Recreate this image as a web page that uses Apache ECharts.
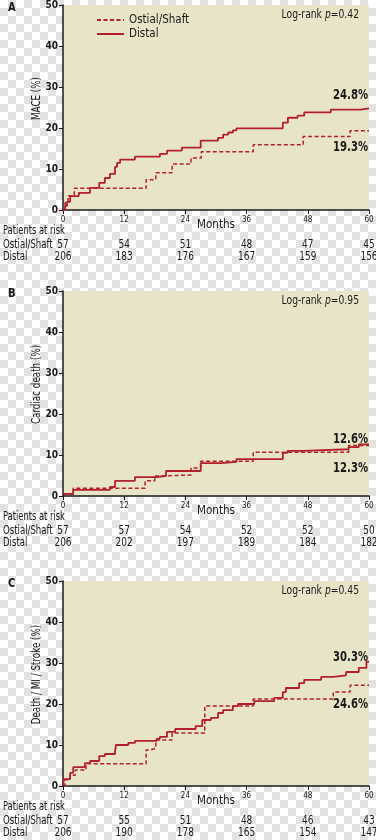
<!DOCTYPE html>
<html>
<head>
<meta charset="utf-8">
<script src="https://cdn.jsdelivr.net/npm/echarts@6/dist/echarts.min.js"></script>
<style>
html, body { margin: 0; padding: 0; }
body {
  width: 376px; height: 840px;
  background-color: #fff;
  background-image:
    linear-gradient(45deg, #e2e2e2 25%, transparent 25%, transparent 75%, #e2e2e2 75%),
    linear-gradient(45deg, #e2e2e2 25%, transparent 25%, transparent 75%, #e2e2e2 75%);
  background-size: 16px 16px;
  background-position: 0 0, 8px 8px;
}
#chart { width: 376px; height: 840px; }
</style>
</head>
<body>
<div id="chart"></div>
<script>
// months ticks
var months = [0, 12, 24, 36, 48, 60]

// panel A - MACE
var distalA = [[0,0],[0.4,1],[0.8,2],[1.4,3.4],[3.1,4.2],[5.3,5.4],[7.1,6.6],[8.2,7.8],[9.2,8.8],[10.2,10.5],[10.6,11.5],[11.2,12.3],[14.1,13],[19,13.7],[20.4,14.5],[23.3,15.2],[27,16.9],[30.4,17.6],[31.4,18.4],[32.4,18.9],[33.3,19.4],[34,19.9],[43.1,21.3],[44.1,22.5],[46,23],[47.3,23.8],[52.5,24.5],[58.4,24.8],[60,24.8]]
var ostialA = [[0,0],[0.4,1.8],[1,3.5],[2.2,5.3],[16.3,7.4],[18.2,9.1],[21.4,11.2],[25.1,12.7],[27.1,14.2],[37.3,15.9],[47.1,17.9],[56.3,19.3],[60,19.3]]
var riskOstialA = [57, 54, 51, 48, 47, 45]
var riskDistalA = [206, 183, 176, 167, 159, 156]

// panel B - cardiac death
var distalB = [[0,0.5],[2,1.5],[9.2,2.2],[10.2,3.7],[14.1,4.6],[18.4,4.9],[20.2,6.1],[27,8],[31,8.3],[34,9],[43.1,10.5],[44,11],[47.1,11.4],[56,11.9],[58,12.6],[60,12.6]]
var ostialB = [[0,0.4],[2,1.9],[16.1,3.7],[18,4.9],[19,5.1],[25.1,6.8],[27,8.5],[37.3,10.7],[56,12.3],[60,12.3]]
var riskOstialB = [57, 57, 54, 52, 52, 50]
var riskDistalB = [206, 202, 197, 189, 184, 182]

// panel C - death / MI / stroke
var distalC = [[0,0.3],[0.2,1.7],[1.4,3.2],[2,4.6],[4.3,5.6],[5.3,6.1],[7.1,7.3],[8.2,7.8],[10.2,8.5],[10.4,10],[12.8,10.5],[14.1,11],[18.4,11.5],[19,12],[20.4,13.2],[22,13.9],[26,14.6],[27.3,16.1],[29,16.6],[30.4,17.8],[31.4,18.5],[33.3,19.5],[34.3,20],[37.5,20.7],[41.4,21.5],[43.1,22.9],[43.7,23.9],[46.3,25.1],[47.3,25.9],[50.6,26.6],[53,27],[55.5,27.8],[58,28.8],[59.5,30.3],[60,30.3]]
var ostialC = [[0,0.2],[0.4,1.5],[1.4,2.6],[2.4,3.9],[4.5,5.4],[16.3,8.8],[17.2,9.2],[18.2,11.2],[21.4,12.9],[27.8,19.5],[37.3,21.2],[53,22.9],[56.3,24.6],[60,24.6]]
var riskOstialC = [57, 55, 51, 48, 46, 43]
var riskDistalC = [206, 190, 178, 165, 154, 147]

var font = '"Liberation Sans Narrow","DejaVu Sans Condensed","Liberation Sans",sans-serif'
var red = '#b2202c'
var ink = '#1a1a1a'
var squeeze = 0.78   // no condensed face installed, so text is narrowed

var panels = [
  {letter:'A', yName:'MACE (%)', p:'0.42', top:5, distal:distalA, ostial:ostialA, rO:riskOstialA, rD:riskDistalA,
   endD:['24.8%', 95], endO:['19.3%', 147]},
  {letter:'B', yName:'Cardiac death (%)', p:'0.95', top:291, distal:distalB, ostial:ostialB, rO:riskOstialB, rD:riskDistalB,
   endD:['12.6%', 439], endO:['12.3%', 468]},
  {letter:'C', yName:'Death / MI / Stroke (%)', p:'0.45', top:581, distal:distalC, ostial:ostialC, rO:riskOstialC, rD:riskDistalC,
   endD:['30.3%', 657], endO:['24.6%', 704]}
]

var grid = [], xAxis = [], yAxis = [], series = []
var H = 205

panels.forEach(function(p, i){
  grid.push({left:63, width:306, top:p.top, height:H, show:true, backgroundColor:'#e8e4c8', borderWidth:0,
    containLabel:false, outerBoundsMode:'none'})
  xAxis.push({
    gridIndex:i, type:'value', min:0, max:60, interval:12,
    name:'Months', nameLocation:'middle', nameGap:9, nameMoveOverlap:false,
    nameTextStyle:{fontFamily:font, fontSize:11.5, color:ink},
    axisLine:{lineStyle:{color:ink, width:1.5}},
    axisTick:{length:4, lineStyle:{color:ink}},
    axisLabel:{margin:6, fontFamily:font, fontSize:8, color:ink},
    splitLine:{show:false}
  })
  yAxis.push({
    gridIndex:i, type:'value', min:0, max:50, interval:10,
    axisLine:{show:true, lineStyle:{color:ink, width:1.5}},
    axisTick:{show:true, length:4, lineStyle:{color:ink}},
    axisLabel:{margin:5, fontFamily:font, fontSize:10, fontWeight:'bold', color:ink},
    splitLine:{show:false}
  })
  series.push({
    name:'Ostial/Shaft', type:'line', step:'end', xAxisIndex:i, yAxisIndex:i,
    data:p.ostial, symbol:'none', lineStyle:{color:red, width:1.5, type:[4,2.5]}, itemStyle:{color:red}
  })
  series.push({
    name:'Distal', type:'line', step:'end', xAxisIndex:i, yAxisIndex:i,
    data:p.distal, symbol:'none', lineStyle:{color:red, width:1.8}, itemStyle:{color:red}
  })
})

var chart = echarts.init(document.getElementById('chart'), null, {renderer:'canvas'})
chart.setOption({
  animation:false,
  textStyle:{fontFamily:font},
  legend:{
    orient:'vertical', left:91, top:9, itemWidth:27, itemHeight:14, itemGap:2,
    data:['Ostial/Shaft','Distal'],
    itemStyle:{opacity:0},
    textStyle:{fontFamily:font, fontSize:11.5, color:ink}
  },
  grid:grid, xAxis:xAxis, yAxis:yAxis, series:series
})

// texts, including numbers at risk placed on the month scale
var graphic = []
function txt(x, y, s, size, opts){
  var o = {type:'text', x:x, y:y, scaleX:squeeze, style:{text:s, fontFamily:font, fontSize:size, fill:ink, verticalAlign:'middle'}}
  if (opts) {
    if (opts.style) Object.assign(o.style, opts.style)
    if (opts.rotation) o.rotation = opts.rotation
    if (opts.scaleX) o.scaleX = opts.scaleX
  }
  graphic.push(o)
}
panels.forEach(function(p, i){
  var bottom = p.top + H
  txt(8, p.top + 3, p.letter, 13, {style:{fontWeight:'bold'}, scaleX:0.85})
  txt(37, p.top + H/2 - 9, p.yName, 12.5, {rotation:Math.PI/2, style:{align:'center'}})
  graphic.push({type:'text', x:359, y:p.top + 10, scaleX:0.82, style:{
    text:'Log-rank {i|p}=' + p.p, align:'right', verticalAlign:'middle', fontFamily:font, fontSize:12.5, fill:ink,
    rich:{i:{fontStyle:'italic', fontFamily:font, fontSize:12.5, fill:ink}}}})
  txt(368, p.endD[1], p.endD[0], 14, {style:{fontWeight:'bold', align:'right'}, scaleX:0.8})
  txt(368, p.endO[1], p.endO[0], 14, {style:{fontWeight:'bold', align:'right'}, scaleX:0.8})
  txt(3, bottom + 21, 'Patients at risk', 12.5, {scaleX:0.74})
  txt(3, bottom + 35, 'Ostial/Shaft', 12.5, {scaleX:0.76})
  txt(3, bottom + 47, 'Distal', 12.5, {scaleX:0.76})
  months.forEach(function(m, k){
    var x = chart.convertToPixel({xAxisIndex:i}, m)
    txt(x, bottom + 35, String(p.rO[k]), 12.5, {style:{align:'center'}, scaleX:0.8})
    txt(x, bottom + 47, String(p.rD[k]), 12.5, {style:{align:'center'}, scaleX:0.8})
  })
})
chart.setOption({graphic:graphic})
</script>
</body>
</html>
